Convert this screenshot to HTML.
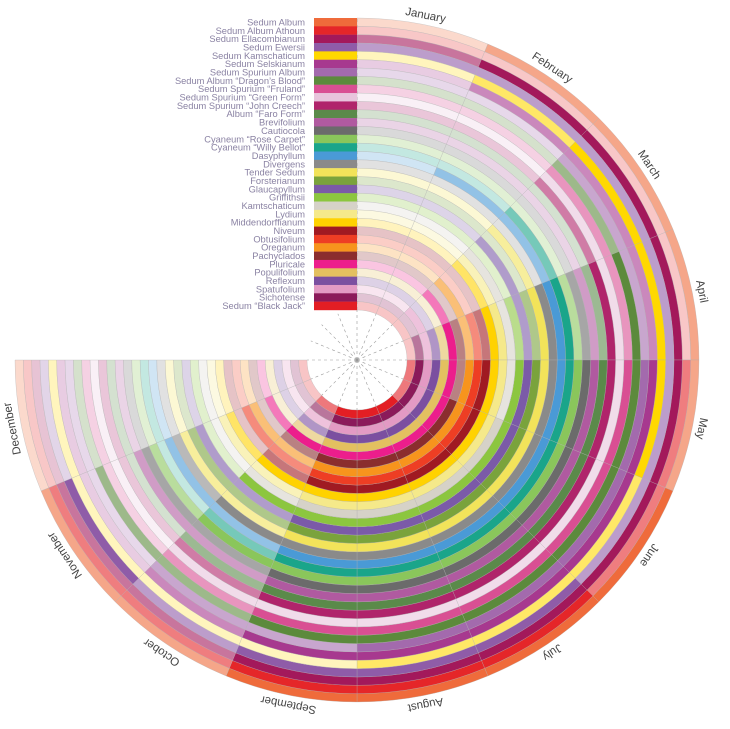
<!DOCTYPE html>
<html><head><meta charset="utf-8"><style>
html,body{margin:0;padding:0;background:#fff;width:730px;height:729px;overflow:hidden}
svg{display:block}
.lg{font-family:"Liberation Sans",sans-serif;font-size:9.3px;fill:#8a82a3;text-anchor:end}
.mo{font-family:"Liberation Sans",sans-serif;font-size:11.5px;fill:#444;text-anchor:middle}
</style></head><body>
<svg id="s" width="730" height="729" viewBox="0 0 730 729" xmlns="http://www.w3.org/2000/svg">
<g id="rings"></g>
<g id="spokes" stroke="#999" stroke-width="0.6" stroke-dasharray="3,3"></g>
<g id="boxes"></g>
<g class="lg">
<text x="305" y="25.5">Sedum Album</text>
<text x="305" y="33.8">Sedum Album Athoun</text>
<text x="305" y="42.2">Sedum Ellacombianum</text>
<text x="305" y="50.5">Sedum Ewersii</text>
<text x="305" y="58.9">Sedum Kamschaticum</text>
<text x="305" y="67.2">Sedum Selskianum</text>
<text x="305" y="75.5">Sedum Spurium Album</text>
<text x="305" y="83.9">Sedum Album “Dragon’s Blood”</text>
<text x="305" y="92.2">Sedum Spurium “Fruland”</text>
<text x="305" y="100.6">Sedum Spurium “Green Form”</text>
<text x="305" y="108.9">Sedum Spurium “John Creech”</text>
<text x="305" y="117.2">Album “Faro Form”</text>
<text x="305" y="125.6">Brevifolium</text>
<text x="305" y="133.9">Cautiocola</text>
<text x="305" y="142.3">Cyaneum “Rose Carpet”</text>
<text x="305" y="150.6">Cyaneum “Willy Bellot”</text>
<text x="305" y="158.9">Dasyphyllum</text>
<text x="305" y="167.3">Divergens</text>
<text x="305" y="175.6">Tender Sedum</text>
<text x="305" y="184.0">Forsterianum</text>
<text x="305" y="192.3">Glaucapyllum</text>
<text x="305" y="200.6">Griffithsii</text>
<text x="305" y="209.0">Kamtschaticum</text>
<text x="305" y="217.3">Lydium</text>
<text x="305" y="225.7">Middendorffianum</text>
<text x="305" y="234.0">Niveum</text>
<text x="305" y="242.3">Obtusifolium</text>
<text x="305" y="250.7">Oreganum</text>
<text x="305" y="259.0">Pachyclados</text>
<text x="305" y="267.4">Pluricale</text>
<text x="305" y="275.7">Populifolium</text>
<text x="305" y="284.0">Reflexum</text>
<text x="305" y="292.4">Spatufolium</text>
<text x="305" y="300.7">Sichotense</text>
<text x="305" y="309.1">Sedum “Black Jack”</text>
</g>
<g class="mo">
<text transform="translate(357,360) rotate(11.25)" x="0" y="-348">January</text>
<text transform="translate(357,360) rotate(33.75)" x="0" y="-348">February</text>
<text transform="translate(357,360) rotate(56.25)" x="0" y="-348">March</text>
<text transform="translate(357,360) rotate(78.75)" x="0" y="-348">April</text>
<text transform="translate(357,360) rotate(101.25)" x="0" y="-348">May</text>
<text transform="translate(357,360) rotate(123.75)" x="0" y="-348">June</text>
<text transform="translate(357,360) rotate(146.25)" x="0" y="-348">July</text>
<text transform="translate(357,360) rotate(168.75)" x="0" y="-348">August</text>
<text transform="translate(357,360) rotate(191.25)" x="0" y="-348">September</text>
<text transform="translate(357,360) rotate(213.75)" x="0" y="-348">October</text>
<text transform="translate(357,360) rotate(236.25)" x="0" y="-348">November</text>
<text transform="translate(357,360) rotate(258.75)" x="0" y="-348">December</text>
</g>
</svg>
<script>
var cx=357,cy=360,R0=342,N=35,W=(342-50)/35;
var cols=["#ef6b3b","#e52629","#a3195b","#8f5ca8","#ffd800","#a7398f","#a36aad","#5c8a3c","#d94f93","#e8c4dc","#b0246b","#5a8a4a","#b05aa0","#6b6b6b","#8ac65b","#1aa58a","#4a9ad6","#8a8a8a","#f2e35a","#7aa33c","#7b5aa8","#8cc63f","#d6d2c8","#f5e98a","#ffd200","#a01a22","#ee3e24","#f7941d","#8b2d2e","#ec1e8c","#e3c060","#7b4fa0","#e39ac4","#8b1a5a","#e31e24"];
var lv=["011112222110","000011222110","122222222110","111111222120","012221110000","011122222100","001122221100","001222222110","001122222100","001111111100","001222222100","000122222100","000122222110","000122222110","000122222210","001222222100","011222222110","000222222210","001222222110","000122222110","001122222110","000122222200","001112222100","001222222110","001222222210","000122222100","000122222110","001122222110","000112222100","001222222210","000122222100","000122222100","001122222100","000122222100","000011222100"];
function mix(h,f){var r=parseInt(h.substr(1,2),16),g=parseInt(h.substr(3,2),16),b=parseInt(h.substr(5,2),16);
r=Math.round(r+(255-r)*f);g=Math.round(g+(255-g)*f);b=Math.round(b+(255-b)*f);return "rgb("+r+","+g+","+b+")";}
function pt(r,a){a=a*Math.PI/180;return (cx+r*Math.sin(a)).toFixed(2)+","+(cy-r*Math.cos(a)).toFixed(2);}
var out="";
for(var i=0;i<N;i++){var ro=R0-i*W,ri=ro-W;
 for(var m=0;m<12;m++){var a0=m*22.5,a1=a0+22.5,l=+lv[i][m];
  var f=l==2?0:(l==1?0.4:0.74);
  var d="M"+pt(ro,a0)+"A"+ro+","+ro+" 0 0 1 "+pt(ro,a1)+"L"+pt(ri,a1)+"A"+ri+","+ri+" 0 0 0 "+pt(ri,a0)+"Z";
  out+='<path d="'+d+'" fill="'+mix(cols[i],f)+'" stroke="#b0b0b0" stroke-width="0.3"/>';}}
document.getElementById("rings").innerHTML=out;
var sp="";for(var k=0;k<16;k++){sp+='<line x1="'+cx+'" y1="'+cy+'" x2="'+pt(50,k*22.5).split(",")[0]+'" y2="'+pt(50,k*22.5).split(",")[1]+'"/>';}
sp+='<line x1="357" y1="310" x2="357" y2="18"/>';
document.getElementById("spokes").innerHTML=sp;
var bx="";for(var i=0;i<N;i++){bx+='<rect x="314" y="'+(18+i*W).toFixed(2)+'" width="43" height="'+(W+0.2).toFixed(2)+'" fill="'+cols[i]+'"/>';}
document.getElementById("boxes").innerHTML=bx;
</script>
</body></html>
